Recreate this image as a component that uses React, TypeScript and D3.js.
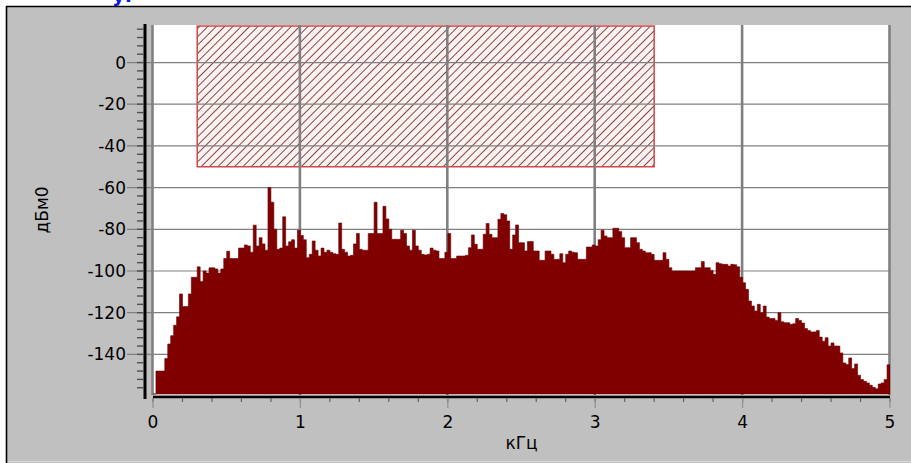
import React from "react";
import * as d3 from "d3";

// Spectrum level per 0.02 kHz bin, dBm0 (250 bins, 0..5 kHz)
const spectrum: number[] = [
  -160, -148, -148, -148, -142, -135, -131, -126, -122, -111,
  -117, -117, -111, -103, -103, -98, -105, -100, -101, -98.5,
  -98.5, -99, -101, -99, -94, -90.5, -94, -94, -94, -89,
  -89, -87.5, -88, -91, -78, -88, -84, -87, -90, -60,
  -67, -80, -89.6, -89, -74, -88, -86, -85, -89, -80.4,
  -83, -85, -93.6, -92, -85.6, -90, -92.8, -89, -91, -90,
  -91, -91.7, -92, -77, -89.6, -91, -92.8, -92.5, -87, -82,
  -89.6, -90, -90, -82, -82, -67, -82, -82, -69, -75,
  -80, -84.8, -84.8, -84.8, -80.4, -82, -88, -90, -80.4, -88,
  -90, -92, -92.3, -92, -89, -90, -90.4, -94, -94, -91,
  -82, -94, -94, -92.8, -92.8, -92.8, -92.5, -88.8, -82.7, -87.2,
  -89.6, -89.6, -82.4, -77.2, -82.4, -84, -84, -75.2, -72.4, -73,
  -76, -89.6, -82.7, -77.9, -86.4, -86.4, -90.4, -85.9, -85.9, -90.4,
  -90.4, -94.9, -94.9, -90.4, -90.4, -92, -94.5, -94.4, -91.7, -96,
  -92, -90.4, -91, -91.2, -94.4, -94.4, -94.4, -88.5, -88.5, -87.5,
  -88, -85, -80.4, -83.2, -84, -84, -79.5, -79.5, -81.1, -84,
  -88.8, -88.8, -84, -84, -86.4, -89.6, -90.4, -91.2, -91.2, -92,
  -94.9, -94.9, -94.9, -91.2, -94.4, -98.4, -100, -100, -100, -100,
  -100, -100, -100, -100, -98.4, -98.4, -95.5, -98.4, -98.4, -99.7,
  -101.6, -96, -96.5, -96.8, -96.8, -97.6, -96.8, -97, -98, -103,
  -105.6, -108.8, -114.4, -116.8, -119.2, -116, -120, -116.8, -122.1, -122.8,
  -122.8, -123.7, -120, -124.4, -124.8, -124.8, -125.6, -125.3, -122.8, -123.7,
  -125, -127.6, -128.5, -129.2, -129.2, -128.5, -131.7, -133.7, -132, -136,
  -134.5, -136, -136, -139.3, -144.1, -144.9, -141.7, -146.8, -144.6, -150,
  -152.1, -152.9, -153.7, -154.8, -155.8, -156.5, -154.2, -153.7, -152.1, -145,
];
const binWidth = 0.02; // kHz

const xTicks = [0, 1, 2, 3, 4, 5];
const xMinorTicks = d3.range(0, 5.0001, 0.2);
const yTicks = [0, -20, -40, -60, -80, -100, -120, -140];
const yMinorTicks = d3.range(-156, 17, 4);

// Mask (hatched region)
const maskX: [number, number] = [0.3, 3.4];
const maskY: [number, number] = [-50, 17.5];

const xLabel = "кГц";
const yLabel = "дБм0";
const headerText = "уг";

export default function App() {
  const W = 911, H = 463;
  const x = d3.scaleLinear().domain([0, 5]).range([153, 890]);
  const y = d3.scaleLinear().domain([-159, 18]).range([394, 25]);
  const font = "'DejaVu Sans', sans-serif";
  const gridColor = "#808080";

  // step data: each bin from i*bw to (i+1)*bw; close with last edge
  const pts: [number, number][] = spectrum.map((v, i) => [i * binWidth, Math.max(v, -159)]);
  pts.push([spectrum.length * binWidth, Math.max(spectrum[spectrum.length - 1], -159)]);
  const area = d3.area<[number, number]>()
    .x((d) => x(d[0]))
    .y0(y(-159))
    .y1((d) => y(d[1]))
    .curve(d3.curveStepAfter);

  return (
    <svg width={W} height={H} style={{ position: "absolute", left: 0, top: 0 }}
      xmlns="http://www.w3.org/2000/svg">
      <defs>
        <pattern id="hatch" patternUnits="userSpaceOnUse" width={5.9} height={10}
          patternTransform="rotate(45)">
          <rect width={5.9} height={10} fill="#fdf3f3" />
          <line x1={0.5} y1={0} x2={0.5} y2={10} stroke="#7e3030" strokeWidth={0.9} />
        </pattern>
        <clipPath id="plotClip">
          <rect x={153} y={25} width={737} height={370} />
        </clipPath>
      </defs>
      <rect width={W} height={H} fill="#ffffff" />
      <text x={112} y={2} fill="#0a1aee" fontFamily={font} fontWeight="bold" fontSize={20}>{headerText}</text>
      {/* gray panel */}
      <rect x={6} y={6} width={W - 6} height={H - 6} fill="#c0c0c0" />
      <line x1={6} y1={6.5} x2={W} y2={6.5} stroke="#000" strokeWidth={1.6} />
      <line x1={6.5} y1={6} x2={6.5} y2={H} stroke="#000" strokeWidth={1.6} />
      <line x1={8} y1={461.5} x2={W} y2={461.5} stroke="#d8d8d8" strokeWidth={1} />
      {/* plot background */}
      <rect x={x(0)} y={25} width={x(5) - x(0)} height={395 - 25} fill="#ffffff" />
      {/* mask */}
      <g clipPath="url(#plotClip)">
        <rect x={x(maskX[0])} y={y(maskY[1])} width={x(maskX[1]) - x(maskX[0])}
          height={y(maskY[0]) - y(maskY[1])} fill="url(#hatch)" stroke="#d04848" strokeWidth={1.5} />
      </g>
      {/* horizontal grid */}
      {yTicks.map((t) => (
        <line key={"hg" + t} x1={127} x2={x(5)} y1={y(t)} y2={y(t)} stroke={gridColor} strokeWidth={1.2} />
      ))}
      {/* vertical grid */}
      {xTicks.map((t) => (
        <line key={"vg" + t} x1={x(t) - 0.5} x2={x(t) - 0.5} y1={25} y2={395} stroke={gridColor} strokeWidth={2.6} />
      ))}
      {/* spectrum bars */}
      <g clipPath="url(#plotClip)">
        <path d={area(pts) || ""} fill="#800000" stroke="#6a0000" strokeWidth={0.6} strokeLinejoin="miter" />
      </g>
      {/* x axis */}
      <line x1={x(0)} x2={x(5)} y1={397} y2={397} stroke="#000" strokeWidth={2.6} />
      {xMinorTicks.map((t, i) => (
        <line key={"xm" + i} x1={x(t)} x2={x(t)} y1={398} y2={402} stroke="#606060" strokeWidth={1.2} />
      ))}
      {xTicks.map((t) => (
        <line key={"xt" + t} x1={x(t)} x2={x(t)} y1={398} y2={408} stroke="#909090" strokeWidth={1.2} />
      ))}
      {xTicks.map((t) => (
        <text key={"xl" + t} x={x(t)} y={428} textAnchor="middle" fontFamily={font} fontSize={17} fill="#000">{t}</text>
      ))}
      <text x={(x(0) + x(5)) / 2} y={449} textAnchor="middle" fontFamily={font} fontSize={17} fill="#000">{xLabel}</text>
      {/* y axis */}
      <line x1={145} x2={145} y1={24} y2={399} stroke="#000" strokeWidth={3} />
      {yMinorTicks.map((t, i) => (
        <line key={"ym" + i} x1={137} x2={144} y1={y(t)} y2={y(t)} stroke="#505050" strokeWidth={1.4} />
      ))}
      {yTicks.map((t) => (
        <text key={"yl" + t} x={126} y={y(t) + 6} textAnchor="end" fontFamily={font} fontSize={17} fill="#000">{t}</text>
      ))}
      <text transform={`translate(48,210) rotate(-90)`} textAnchor="middle" fontFamily={font} fontSize={17} fill="#000">{yLabel}</text>
    </svg>
  );
}
